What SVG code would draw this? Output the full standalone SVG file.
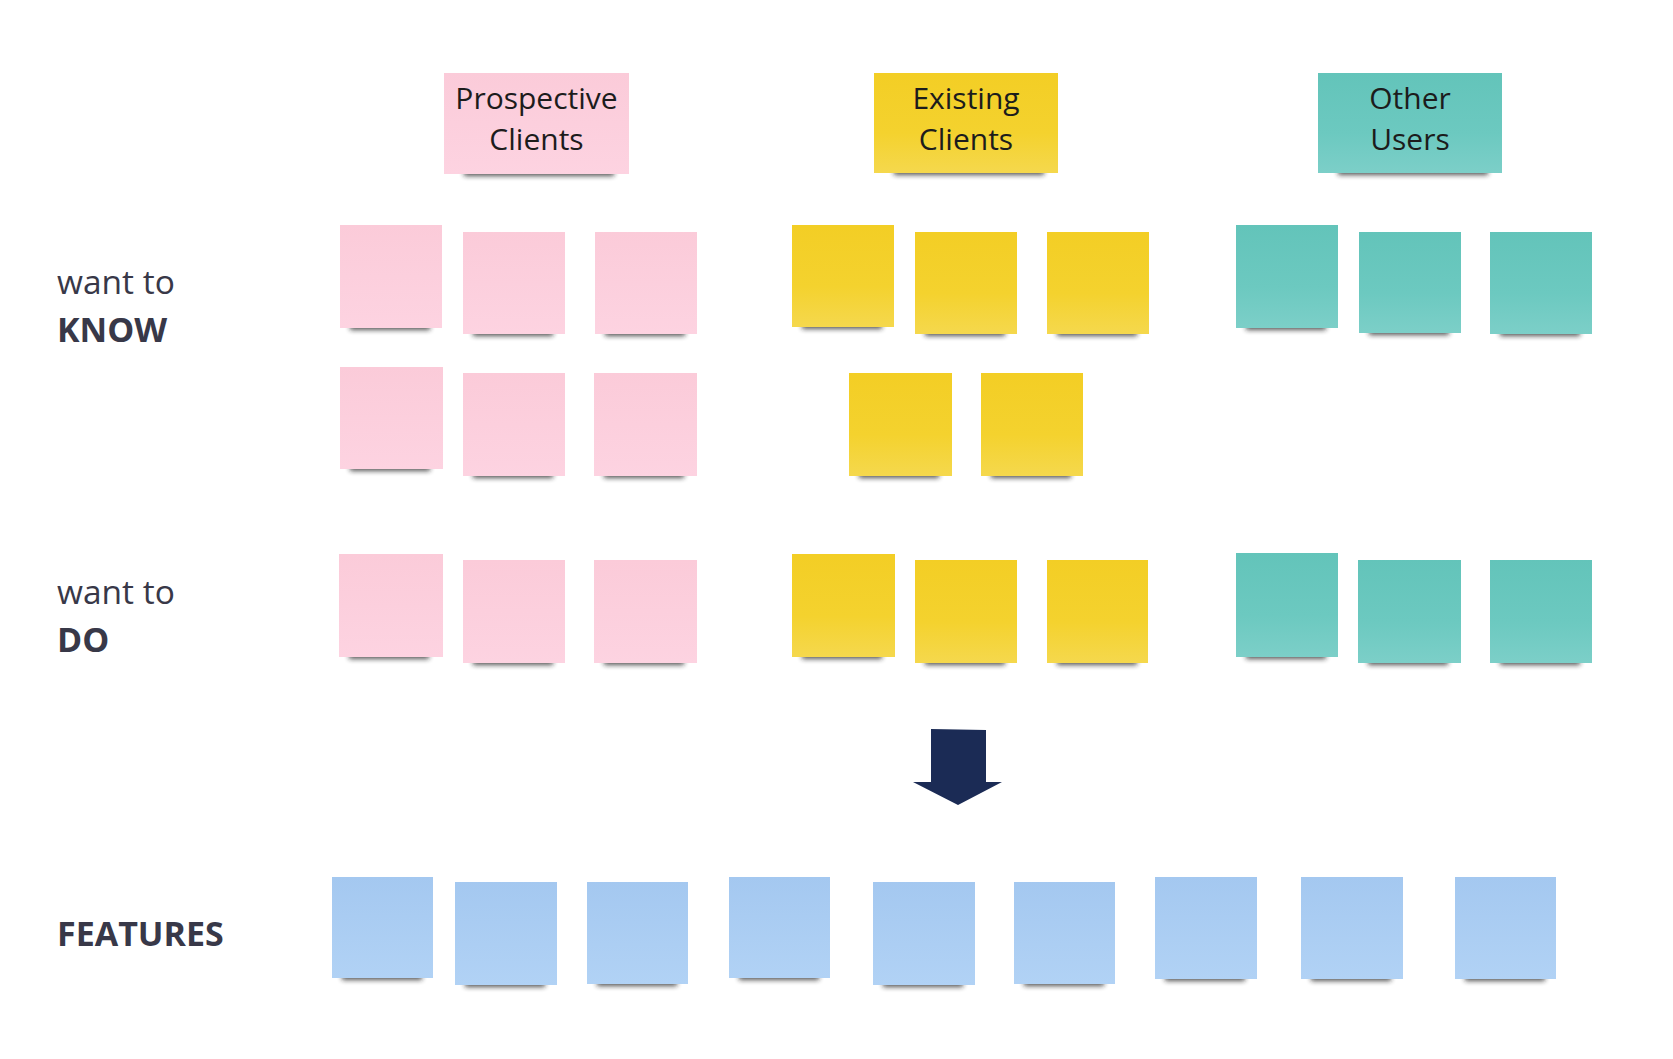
<svg xmlns="http://www.w3.org/2000/svg" width="1673" height="1059" viewBox="0 0 1673 1059">
<style>
.lbl{font-family:"Open Sans","Liberation Sans",sans-serif;font-size:33.5px;fill:#383848}
.lblb{font-family:"Open Sans","Liberation Sans",sans-serif;font-size:34px;font-weight:bold;fill:#383848}
.hdr{font-family:"Open Sans","Liberation Sans",sans-serif;font-size:30px;fill:#1c1c1c;text-anchor:middle}
.sh{fill:#1a1a1a;opacity:0.75;filter:url(#blur)}
.pink{fill:url(#gPink)}
.yel{fill:url(#gYel)}
.teal{fill:url(#gTeal)}
.blue{fill:url(#gBlue)}
.arrow{fill:#1b2b55}
</style>
<defs>
<filter id="blur" x="-20%" y="-200%" width="140%" height="500%"><feGaussianBlur stdDeviation="2.6"/></filter>
<linearGradient id="gPink" x1="0" y1="0" x2="0" y2="1"><stop offset="0" stop-color="#fbcbd9"/><stop offset="1" stop-color="#fdd3e1"/></linearGradient>
<linearGradient id="gYel" x1="0" y1="0" x2="0" y2="1"><stop offset="0" stop-color="#f3ce25"/><stop offset="0.6" stop-color="#f4d22e"/><stop offset="1" stop-color="#f5d84d"/></linearGradient>
<linearGradient id="gTeal" x1="0" y1="0" x2="0" y2="1"><stop offset="0" stop-color="#63c4ba"/><stop offset="0.6" stop-color="#6cc9c0"/><stop offset="1" stop-color="#7ccfc8"/></linearGradient>
<linearGradient id="gBlue" x1="0" y1="0" x2="0" y2="1"><stop offset="0" stop-color="#a4c8f0"/><stop offset="1" stop-color="#b1d2f5"/></linearGradient>
</defs>
<rect width="1673" height="1059" fill="#ffffff"/>

<g id="label-know"><text class="lbl" x="57" y="294">want to</text><text class="lblb" x="57" y="342">KNOW</text></g>
<g id="label-do"><text class="lbl" x="57" y="604">want to</text><text class="lblb" x="57" y="652">DO</text></g>
<g id="label-features"><text class="lblb" x="57" y="946">FEATURES</text></g>

<g id="hdr-prospective"><rect class="sh" x="464" y="169" width="150" height="7"/><rect class="pink" x="444" y="73" width="185" height="101"/><text class="hdr" x="536.5" y="109">Prospective</text><text class="hdr" x="536.5" y="150">Clients</text></g>
<g id="hdr-existing"><rect class="sh" x="894" y="168" width="150" height="7"/><rect class="yel" x="874" y="73" width="184" height="100"/><text class="hdr" x="966" y="109">Existing</text><text class="hdr" x="966" y="150">Clients</text></g>
<g id="hdr-other"><rect class="sh" x="1338" y="168" width="150" height="7"/><rect class="teal" x="1318" y="73" width="184" height="100"/><text class="hdr" x="1410" y="109">Other</text><text class="hdr" x="1410" y="150">Users</text></g>

<g id="know-pink-1"><rect class="sh" x="350" y="323" width="80" height="7"/><rect class="pink" x="340" y="225" width="102" height="103"/></g>
<g id="know-pink-2"><rect class="sh" x="473" y="329" width="80" height="7"/><rect class="pink" x="463" y="232" width="102" height="102"/></g>
<g id="know-pink-3"><rect class="sh" x="605" y="329" width="80" height="7"/><rect class="pink" x="595" y="232" width="102" height="102"/></g>
<g id="know-yellow-1"><rect class="sh" x="802" y="322" width="80" height="7"/><rect class="yel" x="792" y="225" width="102" height="102"/></g>
<g id="know-yellow-2"><rect class="sh" x="925" y="329" width="80" height="7"/><rect class="yel" x="915" y="232" width="102" height="102"/></g>
<g id="know-yellow-3"><rect class="sh" x="1057" y="329" width="80" height="7"/><rect class="yel" x="1047" y="232" width="102" height="102"/></g>
<g id="know-teal-1"><rect class="sh" x="1246" y="323" width="80" height="7"/><rect class="teal" x="1236" y="225" width="102" height="103"/></g>
<g id="know-teal-2"><rect class="sh" x="1369" y="328" width="80" height="7"/><rect class="teal" x="1359" y="232" width="102" height="101"/></g>
<g id="know-teal-3"><rect class="sh" x="1500" y="329" width="80" height="7"/><rect class="teal" x="1490" y="232" width="102" height="102"/></g>

<g id="know-pink-4"><rect class="sh" x="350" y="464" width="80" height="7"/><rect class="pink" x="340" y="367" width="103" height="102"/></g>
<g id="know-pink-5"><rect class="sh" x="473" y="471" width="80" height="7"/><rect class="pink" x="463" y="373" width="102" height="103"/></g>
<g id="know-pink-6"><rect class="sh" x="604" y="471" width="80" height="7"/><rect class="pink" x="594" y="373" width="103" height="103"/></g>
<g id="know-yellow-4"><rect class="sh" x="859" y="471" width="80" height="7"/><rect class="yel" x="849" y="373" width="103" height="103"/></g>
<g id="know-yellow-5"><rect class="sh" x="991" y="471" width="80" height="7"/><rect class="yel" x="981" y="373" width="102" height="103"/></g>

<g id="do-pink-1"><rect class="sh" x="349" y="652" width="80" height="7"/><rect class="pink" x="339" y="554" width="104" height="103"/></g>
<g id="do-pink-2"><rect class="sh" x="473" y="658" width="80" height="7"/><rect class="pink" x="463" y="560" width="102" height="103"/></g>
<g id="do-pink-3"><rect class="sh" x="604" y="658" width="80" height="7"/><rect class="pink" x="594" y="560" width="103" height="103"/></g>
<g id="do-yellow-1"><rect class="sh" x="802" y="652" width="80" height="7"/><rect class="yel" x="792" y="554" width="103" height="103"/></g>
<g id="do-yellow-2"><rect class="sh" x="925" y="658" width="80" height="7"/><rect class="yel" x="915" y="560" width="102" height="103"/></g>
<g id="do-yellow-3"><rect class="sh" x="1057" y="658" width="80" height="7"/><rect class="yel" x="1047" y="560" width="101" height="103"/></g>
<g id="do-teal-1"><rect class="sh" x="1246" y="652" width="80" height="7"/><rect class="teal" x="1236" y="553" width="102" height="104"/></g>
<g id="do-teal-2"><rect class="sh" x="1368" y="658" width="80" height="7"/><rect class="teal" x="1358" y="560" width="103" height="103"/></g>
<g id="do-teal-3"><rect class="sh" x="1500" y="658" width="80" height="7"/><rect class="teal" x="1490" y="560" width="102" height="103"/></g>

<g id="feature-1"><rect class="sh" x="342" y="973" width="80" height="7"/><rect class="blue" x="332" y="877" width="101" height="101"/></g>
<g id="feature-2"><rect class="sh" x="465" y="980" width="80" height="7"/><rect class="blue" x="455" y="882" width="102" height="103"/></g>
<g id="feature-3"><rect class="sh" x="597" y="979" width="80" height="7"/><rect class="blue" x="587" y="882" width="101" height="102"/></g>
<g id="feature-4"><rect class="sh" x="739" y="973" width="80" height="7"/><rect class="blue" x="729" y="877" width="101" height="101"/></g>
<g id="feature-5"><rect class="sh" x="883" y="980" width="80" height="7"/><rect class="blue" x="873" y="882" width="102" height="103"/></g>
<g id="feature-6"><rect class="sh" x="1024" y="979" width="80" height="7"/><rect class="blue" x="1014" y="882" width="101" height="102"/></g>
<g id="feature-7"><rect class="sh" x="1165" y="974" width="80" height="7"/><rect class="blue" x="1155" y="877" width="102" height="102"/></g>
<g id="feature-8"><rect class="sh" x="1311" y="974" width="80" height="7"/><rect class="blue" x="1301" y="877" width="102" height="102"/></g>
<g id="feature-9"><rect class="sh" x="1465" y="974" width="80" height="7"/><rect class="blue" x="1455" y="877" width="101" height="102"/></g>

<g id="connectors">
<polygon class="arrow" points="931,729 986,730 986,782 1002,782 958,805 913,782 931,782"/>
</g>
</svg>
